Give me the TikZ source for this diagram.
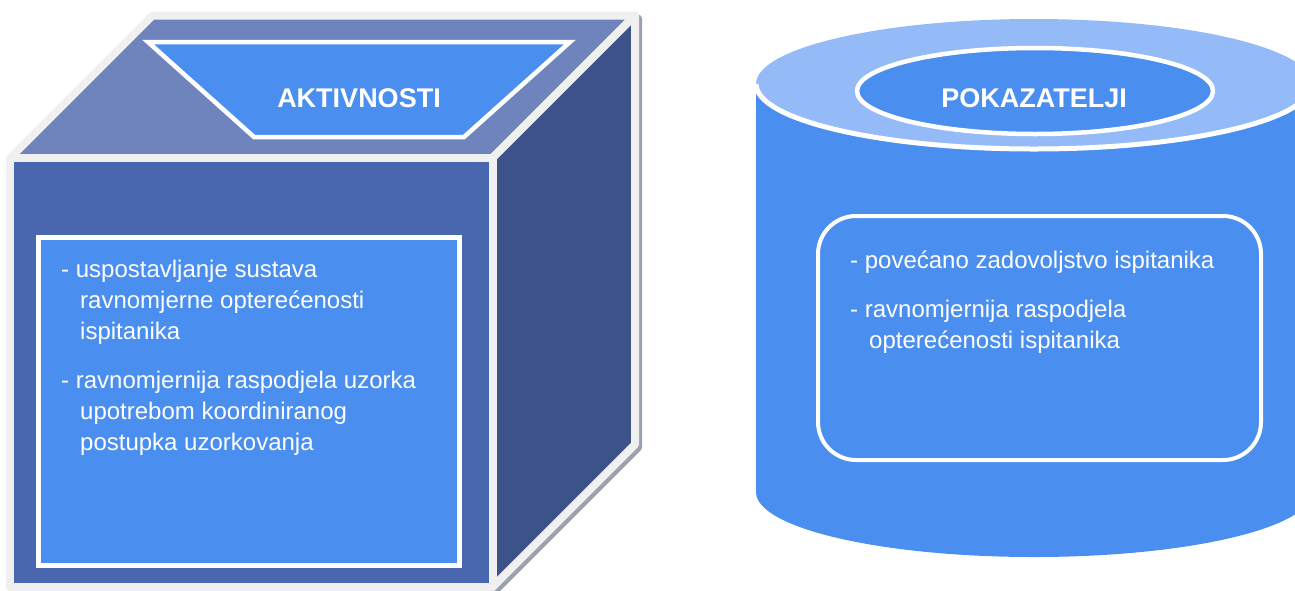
\documentclass[tikz,border=0pt]{standalone}
\usepackage{fontspec}
\setmainfont{Liberation Sans}
\definecolor{topface}{HTML}{6F84BD}
\definecolor{frontface}{HTML}{4967AE}
\definecolor{sideface}{HTML}{3C5289}
\definecolor{brightblue}{HTML}{4A8EEF}
\definecolor{paleblue}{HTML}{94BBF7}
\definecolor{edgegray}{HTML}{F0F0F0}
\definecolor{shadowgray}{HTML}{9AA0AE}

\begin{document}
\begin{tikzpicture}[x=1pt,y=-1pt,
  face/.style={draw=edgegray, line width=8pt, line join=round},
  whiteline/.style={draw=white, line width=4.5pt},
  bodytext/.style={font=\fontsize{24}{29}\selectfont, text=white, anchor=base west, inner sep=0pt},
  titletext/.style={font=\bfseries\fontsize{27}{32}\selectfont, text=white, anchor=base, inner sep=0pt}]
\useasboundingbox (0,0) rectangle (1295,590);
\clip (0,0) rectangle (1295,590);

% ---- cube: drop shadow, then the three faces
\begin{scope}[shift={(3,3)}]
  \filldraw[shadowgray, line width=8pt, line join=round]
    (10,158) -- (152.5,15.5) -- (635,15.5) -- (635,444.5) -- (492.5,587) -- (10,587) -- cycle;
\end{scope}
\filldraw[face, fill=topface] (10,158) -- (152.5,15.5) -- (635,15.5) -- (492.5,158) -- cycle;
\filldraw[face, fill=sideface] (492.5,158) -- (635,15.5) -- (635,444.5) -- (492.5,587) -- cycle;
\filldraw[face, fill=frontface] (10,158) rectangle (492.5,587);

% title plate on the top face
\filldraw[whiteline, fill=brightblue] (148,42) -- (570,42) -- (464,137) -- (254,137) -- cycle;
\node[titletext] (aktiv) at (359,107) {AKTIVNOSTI};

% text panel on the front face
\filldraw[whiteline, fill=brightblue] (38.5,237.5) rectangle (459.5,565.5);
\node[bodytext] (a1) at (61,277) {- uspostavljanje sustava};
\node[bodytext] (a2) at (80,308) {ravnomjerne opterećenosti};
\node[bodytext] (a3) at (80,339) {ispitanika};
\node[bodytext] (a4) at (61,388) {- ravnomjernija raspodjela uzorka};
\node[bodytext] (a5) at (80,419) {upotrebom koordiniranog};
\node[bodytext] (a6) at (80,450) {postupka uzorkovanja};

% ---- cylinder
\fill[brightblue] (756,84) -- (756,492)
  arc[start angle=180, end angle=360, x radius=278pt, y radius=65pt] -- (1312,84) -- cycle;
\fill[paleblue] (1034,84) ellipse[x radius=278pt, y radius=65pt];
\draw[white, line width=5pt] (756,84)
  arc[start angle=180, end angle=360, x radius=278pt, y radius=65pt];
\filldraw[whiteline, fill=brightblue] (1035,91) ellipse[x radius=178pt, y radius=43pt];
\node[titletext] (pokaz) at (1034,107) {POKAZATELJI};

% text panel on the cylinder
\draw[white, line width=4pt, rounded corners=38pt] (818,216) rectangle (1261,460);
\node[bodytext] (p1) at (850,268) {- povećano zadovoljstvo ispitanika};
\node[bodytext] (p2) at (850,317) {- ravnomjernija raspodjela};
\node[bodytext] (p3) at (869,348) {opterećenosti ispitanika};
\end{tikzpicture}
\end{document}
